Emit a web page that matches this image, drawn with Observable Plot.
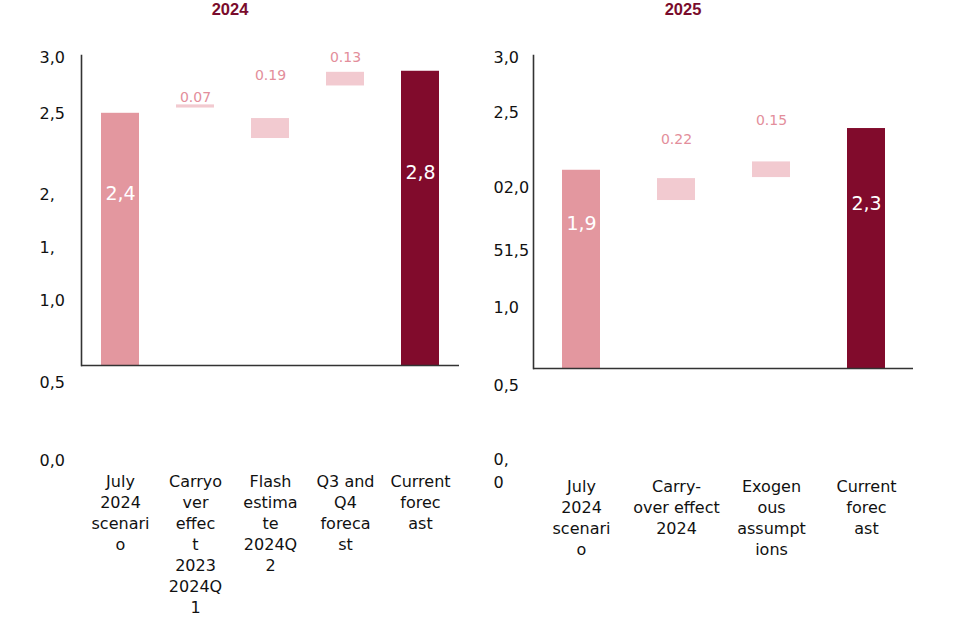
<!DOCTYPE html>
<html><head><meta charset="utf-8">
<script src="https://cdn.jsdelivr.net/npm/d3@7"></script>
<script src="https://cdn.jsdelivr.net/npm/@observablehq/plot@0.6"></script>
<style>
body{margin:0;background:#fff;font-family:"DejaVu Sans",sans-serif;}
#wrap{display:flex;width:965px;height:621px;}
.panel{position:relative;}
#p1{width:482px;}
#p2{width:483px;}
.title{height:18px;line-height:18px;font-weight:bold;font-size:16.5px;font-family:"Liberation Sans",Arial,sans-serif;color:#7a0c2c;text-align:center;}
</style></head><body>
<div id="wrap">
  <div class="panel" id="p1"><div class="title" style="padding-right:22px">2024</div></div>
  <div class="panel" id="p2"><div class="title" style="padding-right:81px">2025</div></div>
</div>
<script>
// ---- 2024 ----
const categories2024 = ["July 2024 scenario","Carryover effect 2023 2024Q1","Flash estimate 2024Q2","Q3 and Q4 forecast","Current forecast"];
const tickLabels2024 = ["July\n2024\nscenari\no","Carryo\nver\neffec\nt\n2023\n2024Q\n1","Flash\nestima\nte\n2024Q\n2","Q3 and\nQ4\nforeca\nst","Current\nforec\nast"];
const barStart2024 = [0, 2.45, 2.16, 2.66, 0];
const barEnd2024 = [2.4, 2.48, 2.35, 2.79, 2.8];
const barKind2024 = ["scenario","change","change","change","forecast"];
const barLabels2024 = ["2,4","0.07","0.19","0.13","2,8"];
const deltaLabelAt2024 = [null, 2.55, 2.76, 2.93, null];
const yTickValues2024 = [2.95, 2.417, 1.646, 1.142, 0.638, -0.143, -0.885];
const yTickLabels2024 = ["3,0","2,5","2,","1,","1,0","0,5","0,0"];

// ---- 2025 ----
const categories2025 = ["July 2024 scenario","Carry-over effect 2024","Exogenous assumptions","Current forecast"];
const tickLabels2025 = ["July\n2024\nscenari\no","Carry-\nover effect\n2024","Exogen\nous\nassumpt\nions","Current\nforec\nast"];
const barStart2025 = [0, 1.61, 1.83, 0];
const barEnd2025 = [1.9, 1.82, 1.98, 2.3];
const barKind2025 = ["scenario","change","change","forecast"];
const barLabels2025 = ["1,9","0.22","0.15","2,3"];
const deltaLabelAt2025 = [null, 2.19, 2.38, null];
const yTickValues2025 = [3.0, 2.473, 1.754, 1.15, 0.604, -0.144, -0.963];
const yTickLabels2025 = ["3,0","2,5","02,0","51,5","1,0","0,5","0,\n0"];

const kindDomain = ["scenario","change","forecast"];
const kindColors = ["#e3979f","#f2cad0","#810b2c"];

function makePanel(cfg) {
  const data = cfg.categories.map((c, i) => ({
    cat: c, y1: cfg.start[i], y2: cfg.end[i], kind: cfg.kind[i], label: cfg.labels[i], at: cfg.labelAt[i]
  }));
  const xLabel = new Map(cfg.categories.map((c, i) => [c, cfg.tickLabels[i]]));
  const yLabel = new Map(cfg.yTicks.map((v, i) => [v, cfg.yTickLabels[i]]));
  return Plot.plot({
    width: cfg.width, height: 603,
    marginTop: 37, marginBottom: cfg.marginBottom, marginLeft: cfg.marginLeft, marginRight: cfg.marginRight,
    x: {domain: cfg.categories, paddingInner: cfg.paddingInner, paddingOuter: cfg.paddingOuter, axis: null, label: null},
    y: {domain: [0, cfg.top], axis: null, label: null},
    color: {domain: kindDomain, range: kindColors},
    style: {fontFamily: "DejaVu Sans, sans-serif", fontSize: "16px", color: "#111", background: "white"},
    marks: [
      Plot.barY(data, {x: "cat", y1: "y1", y2: "y2", fill: "kind"}),
      Plot.text(data.filter(d => d.kind !== "change"), {x: "cat", y: d => d.y2 / 2, text: "label", fill: "white", fontSize: 19, dy: -45}),
      Plot.text(data.filter(d => d.kind === "change"), {x: "cat", y: "at", text: "label", fill: "#e38e9b", fontSize: 14}),
      Plot.frame({anchor: "left", stroke: "#333", strokeWidth: 1.6}),
      Plot.ruleY([0], {stroke: "#333", strokeWidth: 1.6}),
      Plot.axisY(cfg.yTicks, {tickSize: 0, tickPadding: cfg.yPad, textAnchor: "start", tickFormat: v => yLabel.get(v), fontSize: 16, lineHeight: 1.45, label: null}),
      Plot.axisX({tickSize: 0, tickPadding: cfg.xPad, tickFormat: c => xLabel.get(c), fontSize: 16, lineHeight: 1.31, lineAnchor: "top", label: null})
    ]
  });
}

document.getElementById("p1").appendChild(makePanel({
  categories: categories2024, tickLabels: tickLabels2024, start: barStart2024, end: barEnd2024,
  kind: barKind2024, labels: barLabels2024, labelAt: deltaLabelAt2024,
  yTicks: yTickValues2024, yTickLabels: yTickLabels2024,
  width: 482, marginBottom: 256, marginLeft: 81, marginRight: 23, top: 2.95,
  paddingInner: 0.5, paddingOuter: 0.25, yPad: 42, xPad: 107
}));
document.getElementById("p2").appendChild(makePanel({
  categories: categories2025, tickLabels: tickLabels2025, start: barStart2025, end: barEnd2025,
  kind: barKind2025, labels: barLabels2025, labelAt: deltaLabelAt2025,
  yTicks: yTickValues2025, yTickLabels: yTickLabels2025,
  width: 483, marginBottom: 253, marginLeft: 51, marginRight: 52, top: 3.0,
  paddingInner: 0.6, paddingOuter: 0.3, yPad: 40, xPad: 109
}));
</script>
</body></html>
